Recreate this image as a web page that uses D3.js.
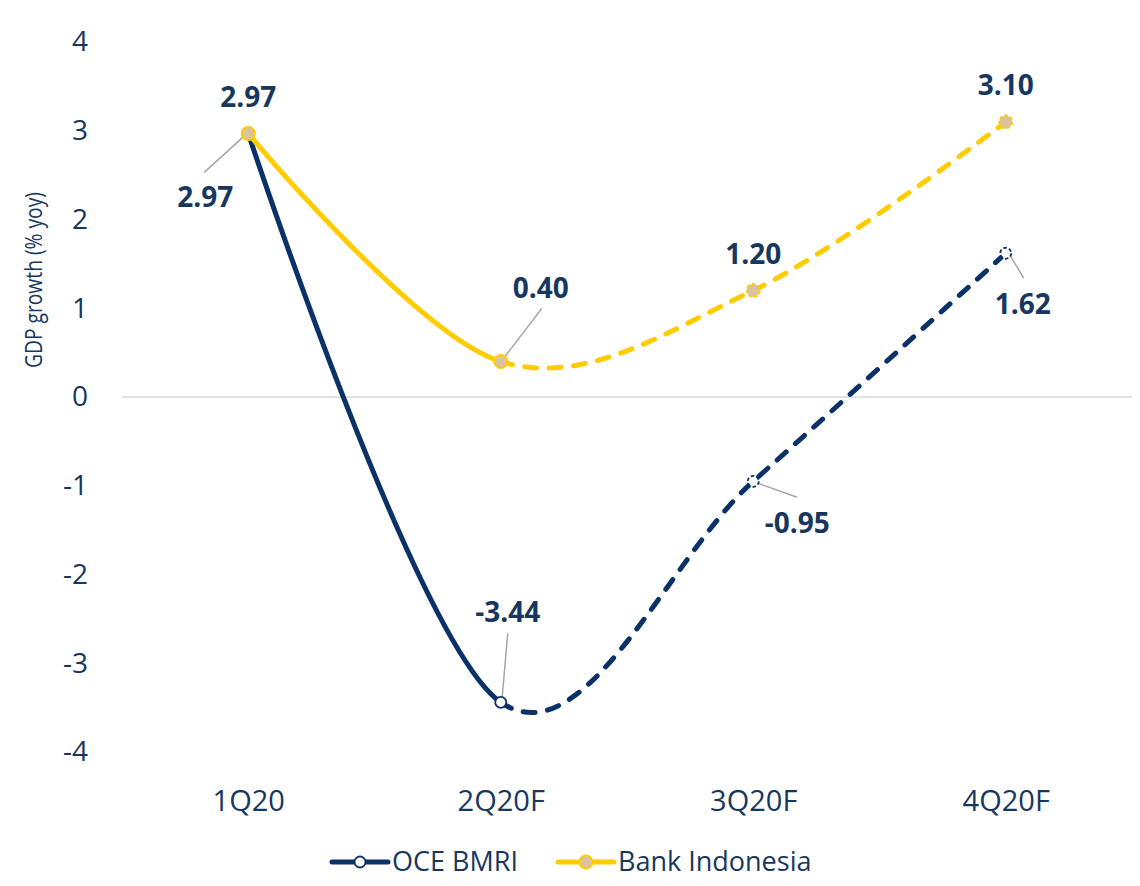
<!DOCTYPE html>
<html>
<head>
<meta charset="utf-8">
<script src="https://cdn.jsdelivr.net/npm/d3@7"></script>
<style>
  html, body { margin: 0; padding: 0; background: #ffffff; }
  svg { display: block; font-family: "Open Sans", sans-serif; }
</style>
</head>
<body>
<svg id="chart" width="1140" height="886"></svg>
<script>
// Quarterly GDP growth, % yoy
const quarters = ["1Q20", "2Q20F", "3Q20F", "4Q20F"];
const oceBmri = [2.97, -3.44, -0.95, 1.62];
const bankIndonesia = [2.97, 0.40, 1.20, 3.10];
const yTicks = [-4, -3, -2, -1, 0, 1, 2, 3, 4];
const seriesNames = ["OCE BMRI", "Bank Indonesia"];
const forecastFrom = 1; // index where the dashed (forecast) part begins

const NAVY = "#0a3268";
const TEXT = "#17375e";
const YELLOW = "#ffcc00";
const TAN = "#dcc3a0";
const LEADER = "#a6a6a6";

const svg = d3.select("#chart");
const margin = { left: 122, right: 8, top: 42, bottom: 134 };
const W = 1140, H = 886;

const x = d3.scalePoint().domain(quarters).range([margin.left, W - margin.right]).padding(0.5);
const y = d3.scaleLinear().domain([-4, 4]).range([H - margin.bottom, margin.top]);

// plain hyphen for negatives
const fmtInt = d => String(d);
const fmtVal = d => d.toFixed(2);

// zero line
svg.append("line")
  .attr("x1", margin.left).attr("x2", W - margin.right)
  .attr("y1", y(0)).attr("y2", y(0))
  .attr("stroke", "#d9d9d9").attr("stroke-width", 1.5);

// y axis labels
const yAxis = svg.append("g")
  .attr("transform", `translate(${88},0)`)
  .call(d3.axisLeft(y).tickValues(yTicks).tickSize(0).tickPadding(0).tickFormat(fmtInt));
yAxis.select(".domain").remove();
yAxis.selectAll("text")
  .attr("fill", TEXT).attr("font-size", 28)
  .attr("font-family", "Open Sans, sans-serif");

// x axis labels
const xAxis = svg.append("g")
  .attr("transform", `translate(0,${801})`)
  .call(d3.axisBottom(x).tickSize(0).tickPadding(0));
xAxis.select(".domain").remove();
xAxis.selectAll("text")
  .attr("fill", TEXT).attr("font-size", 29)
  .attr("dy", "0.35em")
  .attr("font-family", "Open Sans, sans-serif");

// axis title
svg.append("text")
  .attr("transform", `translate(42,280) rotate(-90)`)
  .attr("text-anchor", "middle")
  .attr("fill", TEXT).attr("font-size", 23)
  .attr("textLength", 176).attr("lengthAdjust", "spacingAndGlyphs")
  .text("GDP growth (% yoy)");

const line = d3.line()
  .x((d, i) => x(quarters[i]))
  .y(d => y(d))
  .curve(d3.curveCardinal.tension(0));

// Draws a curve that is solid up to the forecast point and dashed after it.
function drawSeries(values, color) {
  const path = svg.append("path")
    .datum(values)
    .attr("d", line)
    .attr("fill", "none")
    .attr("stroke", color)
    .attr("stroke-width", 5)
    .attr("stroke-linecap", "round")
    .attr("stroke-linejoin", "round");
  const node = path.node();
  const total = node.getTotalLength();
  const xSplit = x(quarters[forecastFrom]);
  let lo = 0, hi = total;
  for (let k = 0; k < 40; k++) {
    const mid = (lo + hi) / 2;
    if (node.getPointAtLength(mid).x < xSplit) lo = mid; else hi = mid;
  }
  const dash = [lo, 0.001];
  const dashLen = 12, gapLen = 12.5;
  for (let s = 0; s < total - lo + 50; s += dashLen + gapLen) dash.push(dashLen, gapLen);
  path.attr("stroke-dasharray", dash.join(" "));
}

drawSeries(oceBmri, NAVY);
drawSeries(bankIndonesia, YELLOW);

// leader lines and data labels (offsets in px from each point)
const labelLayout = {
  oce: [
    { dx: -43, dy: 64, leader: [[0, -1], [-44, 39]] },
    { dx: 7, dy: -90, leader: [[1, 0], [7, -69]] },
    { dx: 44, dy: 42, leader: [[2, 1], [44, 16]] },
    { dx: 17, dy: 51, leader: [[3, 0], [18, 25]] }
  ],
  bi: [
    { dx: 0, dy: -36, leader: null },
    { dx: 40, dy: -74, leader: [[2, -2], [41, -53]] },
    { dx: 0, dy: -37, leader: null },
    { dx: 0, dy: -37, leader: null }
  ]
};

function drawLeaders(values, layout) {
  values.forEach((v, i) => {
    const L = layout[i];
    if (!L.leader) return;
    const px = x(quarters[i]), py = y(v);
    svg.append("line")
      .attr("x1", px + L.leader[0][0]).attr("y1", py + L.leader[0][1])
      .attr("x2", px + L.leader[1][0]).attr("y2", py + L.leader[1][1])
      .attr("stroke", LEADER).attr("stroke-width", 1.5);
  });
}
drawLeaders(oceBmri, labelLayout.oce);
drawLeaders(bankIndonesia, labelLayout.bi);

// markers
svg.append("g").selectAll("circle")
  .data(oceBmri)
  .join("circle")
  .attr("cx", (d, i) => x(quarters[i]))
  .attr("cy", d => y(d))
  .attr("r", 5.5)
  .attr("fill", "#ffffff")
  .attr("stroke", NAVY)
  .attr("stroke-width", 1.8)
  .attr("stroke-dasharray", (d, i) => i > forecastFrom ? "3.5 2.2" : null);

svg.append("g").selectAll("circle")
  .data(bankIndonesia)
  .join("circle")
  .attr("cx", (d, i) => x(quarters[i]))
  .attr("cy", d => y(d))
  .attr("r", 6.5)
  .attr("fill", TAN)
  .attr("stroke", YELLOW)
  .attr("stroke-width", 2)
  .attr("stroke-dasharray", (d, i) => i > forecastFrom ? "3.5 2.2" : null);

function drawLabels(values, layout) {
  values.forEach((v, i) => {
    const L = layout[i];
    svg.append("text")
      .attr("x", x(quarters[i]) + L.dx)
      .attr("y", y(v) + L.dy)
      .attr("dy", "0.36em")
      .attr("text-anchor", "middle")
      .attr("font-size", 28)
      .attr("font-weight", 700)
      .attr("fill", TEXT)
      .text(fmtVal(v));
  });
}
drawLabels(bankIndonesia, labelLayout.bi);
drawLabels(oceBmri, labelLayout.oce);

// legend
const legend = svg.append("g").attr("transform", "translate(0,862)");
const legendItems = [
  { name: seriesNames[0], x0: 332, color: NAVY, fill: "#ffffff", r: 5.5, sw: 1.8 },
  { name: seriesNames[1], x0: 558, color: YELLOW, fill: TAN, r: 6.5, sw: 2 }
];
legendItems.forEach(it => {
  legend.append("line")
    .attr("x1", it.x0).attr("x2", it.x0 + 56)
    .attr("y1", 0).attr("y2", 0)
    .attr("stroke", it.color).attr("stroke-width", 5).attr("stroke-linecap", "round");
  legend.append("circle")
    .attr("cx", it.x0 + 28).attr("cy", 0).attr("r", it.r)
    .attr("fill", it.fill).attr("stroke", it.color).attr("stroke-width", it.sw);
  legend.append("text")
    .attr("x", it.x0 + 60).attr("y", 0).attr("dy", "0.35em")
    .attr("font-size", 27).attr("fill", TEXT)
    .text(it.name);
});
</script>
</body>
</html>
